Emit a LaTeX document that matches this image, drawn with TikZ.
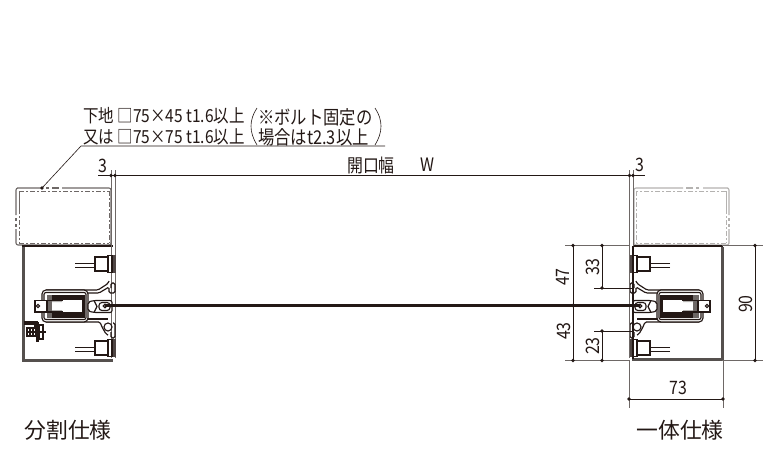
\documentclass[tikz,border=0pt]{standalone}
\usepackage{fontspec}
\setmainfont[FakeStretch=0.86]{Noto Sans CJK JP}
\newfontfamily\wide{Noto Sans CJK JP}
\usetikzlibrary{calc}
\definecolor{ink}{HTML}{231815}
\definecolor{mid}{HTML}{6E6866}
\definecolor{frame}{HTML}{55504E}
\definecolor{pale}{HTML}{B4B2B0}
\tikzset{
  x=1pt,y=-1pt,
  dimline/.style={draw=ink,line width=0.6pt},
  extline/.style={draw=mid,line width=0.6pt},
  thinpart/.style={draw=ink,line width=1.15pt},
  boldpart/.style={draw=frame,line width=3pt},
  tube/.style={line width=1.1pt},
  tubegap/.style={line width=0.8pt,dash pattern=on 5pt off 2pt on 2pt off 2pt},
  dimdot/.style={fill=ink,circle,inner sep=0pt,minimum size=3.6pt},
  lbl/.style={inner sep=0pt,text=ink,font=\fontsize{18.5}{20}\selectfont},
  note/.style={inner sep=0pt,text=ink,anchor=west,font=\fontsize{18}{20}\selectfont},
  notewide/.style={inner sep=0pt,text=ink,anchor=west,font=\fontsize{19}{21}\selectfont},
  bigl/.style={inner sep=0pt,text=ink,font=\wide\fontsize{21.8}{24}\selectfont},
}
\newcommand{\tubebox}[1]{%
  \begin{scope}[draw=#1]
  \draw[tube,rounded corners=2pt] (42,188) -- (19,188) -- (16,188) -- (16,215);
  \draw[tube,rounded corners=2pt] (16,229) -- (16,245) -- (111,245) -- (111,188) -- (62,188);
  \draw[tube] (46,188) -- (49,188) (52,188) -- (59,188) (16,218) -- (16,221) (16,224) -- (16,227);
  \draw[tubegap] (19,191) -- (109,191);
  \draw[tubegap] (109,191) -- (109,243);
  \draw[tubegap] (19,243) -- (109,243);
  \draw[tube,line width=0.8pt] (19,191) -- (19,209);
  \draw[tubegap] (19,209) -- (19,243);
  \end{scope}}
\newcommand{\sensor}[1]{%
  \begin{scope}[shift={(0,#1)}]
  \fill[ink!80] (111.5,255) rectangle (115.5,273);
  \draw[thinpart,fill=white] (108,255.5) rectangle (112,272.5);
  \draw[thinpart,fill=white] (95,257) rectangle (108,271);
  \draw[thinpart,line width=0.8pt] (75,263) -- (95,263) (75,267) -- (95,267);
  \end{scope}}
\newcommand{\mechanism}{%
  % rails and hooks
  \draw[thinpart,rounded corners=1.5pt] (46,290) -- (98,290) -- (108,283.5) -- (109,281);
  \draw[thinpart,rounded corners=1.5pt] (46,293) -- (99,293) -- (109,287) -- (109,293) -- (115,293) -- (115,283) -- (111,283) -- (111,288);
  \draw[thinpart,rounded corners=1.5pt] (46,322) -- (100,322) -- (102,327) -- (106,334) -- (108,335);
  \draw[thinpart,rounded corners=1.5pt] (46,319) -- (108,319);
  \draw[thinpart] (108,327) circle (4);
  \draw[thinpart,rounded corners=1.5pt] (113,323) -- (115,323) -- (115,338) -- (111,338) -- (111,332);
  % housing
  \draw[thinpart,rounded corners=4pt,fill=white] (42,290) rectangle (88,322);
  \draw[thinpart,rounded corners=2pt] (44,292.5) rectangle (86,319.5);
  \fill[ink] (46.5,294.5) rectangle (85,317.5);
  \fill[white] (52,300) rectangle (82,312);
  \fill[mid] (46.5,294.5) rectangle (52,317.5);
  \fill[pale] (52,300) rectangle (62,302) (52,310) rectangle (62,312);
  % tab and its long lines
  \draw[thinpart,fill=white] (35,300.5) rectangle (47,312);
  \draw[thinpart] (38,306) circle (1.6);
  \draw[thinpart] (40,300.5) -- (63,300.5) (40,312) -- (63,312);
  % clamp
  \draw[thinpart,fill=white,rounded corners=2pt] (88,302) -- (94,300.5) -- (112,300.5) -- (112,312.5) -- (94,312.5) -- (88,311) -- cycle;
  \draw[thinpart] (94,300.5) -- (97,306.5) -- (94,312.5);
  \draw[thinpart,rounded corners=3pt] (99,302.5) rectangle (110,310.5);
  \draw[thinpart] (105,306) circle (1.8);
  \sensor{0}\sensor{84}}
\begin{document}
\begin{tikzpicture}
\useasboundingbox (0,0) rectangle (763,450);
\fill[white] (0,0) rectangle (763,450);

% ---- left side
\tubebox{mid}
\draw[boldpart] (23,246.5) -- (23,360) -- (113,360);
\draw[thinpart] (21.5,246) -- (113,246);
\draw[extline] (111,170) -- (111,358) (115,170) -- (115,358);
\mechanism
% bolted bracket
\draw[thinpart,line width=1.2pt] (24,322) -- (37,322) -- (37,327);
\draw[thinpart] (24,324) -- (35,324) -- (35,328);
\draw[thinpart] (27,328) rectangle (36,336);
\draw[thinpart] (27,332) -- (46,332) (30,328) -- (30,336) (33,328) -- (33,336);
\fill[ink] (36,322) rectangle (39,342);
\draw[thinpart] (39,325) rectangle (43,339);

% ---- right side (mirror image about x = 372.5)
\begin{scope}[shift={(745,0)},xscale=-1]
\tubebox{pale}
\mechanism
\end{scope}
\draw[boldpart] (632,359.5) -- (722,359.5) -- (722,246.5);
\draw[thinpart] (633,246) -- (723,246) (633,246) -- (633,359);
\draw[extline] (629.5,170) -- (629.5,358) (633,170) -- (633,246);

% ---- shaft
\coordinate (shaftL) at (105,305.5);
\coordinate (shaftR) at (640,305.5);
\draw[ink,line width=2.2pt] (shaftL) -- (shaftR);

% ---- note and leader
\node[note] (n1) at (83,116) {下地 □75×45 t1.6以上};
\node[note] (n2) at (83,137) {又は □75×75 t1.6以上};
\node[notewide] (n3) at (258,117) {※ボルト固定の};
\node[notewide] (n4) at (258,137) {場合はt2.3以上};
\coordinate (ruleL) at (81,146);
\coordinate (ruleR) at (385,146);
\coordinate (leadEnd) at (42,188);
\draw[dimline] (leadEnd) -- (ruleL) -- (ruleR);
\node[dimdot] at (leadEnd) {};
\draw[ink,line width=0.6pt] (257,108) .. controls (249,120) and (249,132) .. (257,145);
\draw[ink,line width=0.6pt] (375,108) .. controls (383,120) and (383,132) .. (375,145);

% ---- top dimension
\coordinate (d1) at (98,175.5);
\coordinate (d2) at (111,175.5);
\coordinate (d3) at (115,175.5);
\coordinate (d4) at (629.5,175.5);
\coordinate (d5) at (633,175.5);
\coordinate (d6) at (645,175.5);
\draw[dimline] (d1) -- (d6);
\foreach \p in {d2,d3,d4,d5} \node[dimdot] at (\p) {};
\node[lbl] (t3l) at (103,166) {3};
\node[lbl] (t3r) at (640,165) {3};
\node[lbl] (topen) at (371,165) {開口幅};
\node[lbl] (tw) at (427,165) {W};

% ---- right dimensions
\coordinate (h90t) at (755,245.5);
\coordinate (h90b) at (755,360.5);
\coordinate (h47t) at (573,245.5);
\coordinate (h47m) at (573,305.5);
\coordinate (h47b) at (573,360.5);
\coordinate (h33t) at (602,245.5);
\coordinate (h33b) at (602,288);
\coordinate (h23t) at (602,331);
\coordinate (h23b) at (602,360.5);
\draw[extline] (565,245.5) -- (630,245.5) (722,245.5) -- (763,245.5);
\draw[extline] (565,360.5) -- (630,360.5) (722,360.5) -- (763,360.5);
\draw[dimline] (594,288) -- (632,288) (594,331) -- (632,331);
\draw[dimline] (h47t) -- (h47b) (h33t) -- (h33b) (h23t) -- (h23b) (h90t) -- (h90b);
\foreach \p in {h90t,h90b,h47t,h47m,h47b,h33t,h33b,h23t,h23b} \node[dimdot] at (\p) {};
\node[lbl,rotate=90] (t47) at (563,277) {47};
\node[lbl,rotate=90] (t33) at (593,267) {33};
\node[lbl,rotate=90] (t43) at (564,331) {43};
\node[lbl,rotate=90] (t23) at (593,346) {23};
\node[lbl,rotate=90] (t90) at (746,304) {90};
\coordinate (w73l) at (629,399);
\coordinate (w73r) at (723,399);
\draw[extline] (629,360) -- (629,408) (723,360) -- (723,408);
\draw[dimline] (w73l) -- (w73r);
\node[dimdot] at (w73l) {};
\node[dimdot] at (w73r) {};
\node[lbl] (t73) at (678,388) {73};

% ---- captions
\node[bigl] (capL) at (68,430) {分割仕様};
\node[bigl] (capR) at (680,430) {一体仕様};
\end{tikzpicture}
\end{document}
